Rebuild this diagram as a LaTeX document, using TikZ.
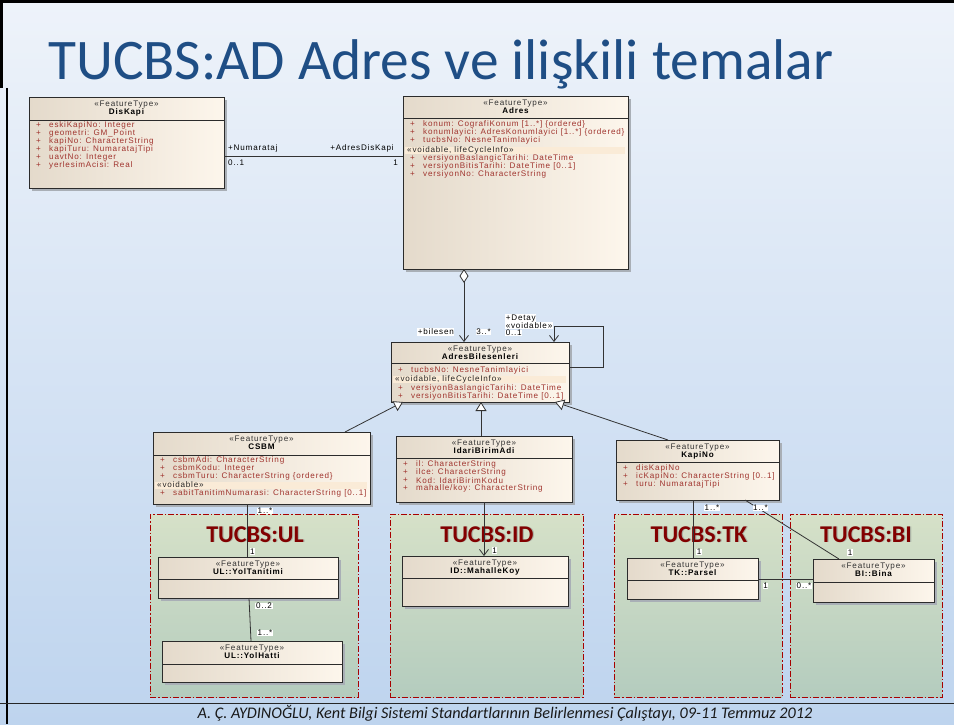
\documentclass[tikz,border=0pt]{standalone}
\usepackage{fontspec}
\setmainfont{Carlito}
\newfontfamily\umlfont{Liberation Sans}[LetterSpace=10]
\usetikzlibrary{arrows.meta}

\definecolor{bgTop}{HTML}{EEF3FA}
\definecolor{bgBot}{HTML}{BED4EE}
\definecolor{boxL}{HTML}{E4DACB}
\definecolor{boxR}{HTML}{FDF6EC}
\definecolor{boxline}{HTML}{2B2B2B}
\definecolor{shadowc}{HTML}{A9AFB6}
\definecolor{attrred}{HTML}{A0332D}
\definecolor{bandc}{HTML}{FAEBD7}
\definecolor{connc}{HTML}{333333}
\definecolor{regred}{HTML}{A80000}
\definecolor{regTop}{HTML}{D6E1C8}
\definecolor{regBot}{HTML}{B4CCBE}
\definecolor{titleblue}{HTML}{1F4E85}
\definecolor{regtitle}{HTML}{820000}

\newcounter{lbl}
\newcommand\umlsize{\umlfont\fontsize{8.1}{8}\selectfont}

% class box: name, x1, y1, x2, y2, header line y, class name
\newcommand\umlclass[7]{%
  \fill[shadowc] (#2+2.5,#3+2.5) rectangle (#4+2.5,#5+2.5);
  \node[umlbox, anchor=north west, minimum width={#4-#2}, minimum height={#5-#3}] (#1) at (#2,#3) {};
  \draw[boxrule] (#2,#6) -- (#4,#6);
  \node[stereo] (#1-st) at ({(#2+#4)/2},#3+7.5) {«FeatureType»};
  \node[cname] (#1-nm) at ({(#2+#4)/2},#3+15) {#7};
}
% attribute line: box left x, y, text
\newcommand\attr[3]{\stepcounter{lbl}%
  \node[attrt] (p\arabic{lbl}) at (#1+7,#2) {+};
  \node[attrt] (a\arabic{lbl}) at (#1+20,#2) {#3};}
% stereotype band: x1, x2, y, text
\newcommand\band[4]{\stepcounter{lbl}%
  \fill[bandc] (#1+2,#3-3.5) rectangle (#2-3,#3+3.5);
  \node[bandt] (b\arabic{lbl}) at (#1+4,#3) {#4};}
% package region: name, x1, y1, x2, y2, title, title x
\newcommand\region[7]{%
  \node[region, anchor=north west, minimum width={#4-#2}, minimum height={#5-#3}] (#1) at (#2,#3) {};
  \node[regt, text=gray, opacity=0.45] (#1-sh) at (#7+1.2,#3+28.2) {#6};
  \node[regt] (#1-t) at (#7,#3+28) {#6};
}

\tikzset{
  umlbox/.style={draw=boxline, line width=0.9pt, left color=boxL, right color=boxR, inner sep=0pt, outer sep=0pt},
  boxrule/.style={draw=boxline, line width=0.8pt},
  stereo/.style={font=\umlsize, text=black!80, inner sep=0pt},
  cname/.style={font=\umlsize\bfseries, text=black, inner sep=0pt},
  attrt/.style={font=\umlsize, text=attrred, anchor=west, inner sep=0pt},
  bandt/.style={font=\umlsize, text=black!85, anchor=west, inner sep=0pt},
  lab/.style={font=\umlsize, text=black, fill=white, inner sep=0.6pt},
  conn/.style={draw=connc, line width=0.8pt},
  region/.style={draw=regred, line width=1pt, dash pattern=on 6pt off 2pt on 1.5pt off 2pt, top color=regTop, bottom color=regBot, inner sep=0pt, outer sep=0pt},
  regt/.style={font=\bfseries\fontsize{24}{26}\selectfont, text=regtitle, inner sep=0pt, anchor=base, text depth=0pt},
  barb/.style={-{Straight Barb[length=6pt,width=9pt,line width=0.8pt]}},
  gen/.style={-{Triangle[open,fill=white,length=9pt,width=11pt,line width=0.8pt]}},
}

\begin{document}
\begin{tikzpicture}[x=1pt,y=-1pt]
\useasboundingbox (0,0) rectangle (954,724);
\fill[top color=bgTop, bottom color=bgBot] (0,0) rectangle (954,724);

% slide frame
\draw[black, line width=3pt] (0,1.5) -- (954,1.5);
\draw[black, line width=2.5pt] (1.5,0) -- (1.5,88);
\draw[black, line width=1.5pt] (7,88) -- (7,724);
\draw[black!85, line width=1.5pt] (0,703.5) -- (954,703.5);

% heading and footer
\node[anchor=base west, font=\fontsize{57.4}{60}\selectfont, text=titleblue, inner sep=0pt] (title) at (48,79.5) {TUCBS:AD Adres ve ilişkili temalar};
\node[anchor=base, font=\itshape\fontsize{16.2}{18}\selectfont, text=black!90, inner sep=0pt] (footer) at (505,718.5) {A. Ç. AYDINOĞLU, Kent Bilgi Sistemi Standartlarının Belirlenmesi Çalıştayı, 09-11 Temmuz 2012};

% package regions
\region{ul}{150}{514}{358}{697}{TUCBS:UL}{255}
\region{id}{390}{514}{583}{697}{TUCBS:ID}{487}
\region{tk}{614}{514}{782}{697}{TUCBS:TK}{699}
\region{bi}{790}{514}{942}{697}{TUCBS:BI}{866}

% DisKapi
\umlclass{diskapi}{29}{97}{224}{188}{120}{DisKapi}
\attr{29}{125.5}{eskiKapiNo: Integer}
\attr{29}{133.4}{geometri: GM\_Point}
\attr{29}{141.3}{kapiNo: CharacterString}
\attr{29}{149.2}{kapiTuru: NumaratajTipi}
\attr{29}{157.1}{uavtNo: Integer}
\attr{29}{165}{yerlesimAcisi: Real}

% Adres
\umlclass{adres}{403}{96}{628}{269}{118}{Adres}
\attr{403}{124.5}{konum: CografiKonum [1..*] \{ordered\}}
\attr{403}{132.5}{konumlayici: AdresKonumlayici [1..*] \{ordered\}}
\attr{403}{140.5}{tucbsNo: NesneTanimlayici}
\band{403}{628}{150}{«voidable, lifeCycleInfo»}
\attr{403}{158}{versiyonBaslangicTarihi: DateTime}
\attr{403}{166}{versiyonBitisTarihi: DateTime [0..1]}
\attr{403}{174}{versiyonNo: CharacterString}

% AdresBilesenleri
\umlclass{bil}{391}{342}{569}{402}{363}{AdresBilesenleri}
\attr{391}{370}{tucbsNo: NesneTanimlayici}
\band{391}{569}{379.5}{«voidable, lifeCycleInfo»}
\attr{391}{388}{versiyonBaslangicTarihi: DateTime}
\attr{391}{396}{versiyonBitisTarihi: DateTime [0..1]}

% CSBM
\umlclass{csbm}{153}{432}{370}{504}{455}{CSBM}
\attr{153}{460.5}{csbmAdi: CharacterString}
\attr{153}{468.5}{csbmKodu: Integer}
\attr{153}{476.5}{csbmTuru: CharacterString \{ordered\}}
\band{153}{370}{485}{«voidable»}
\attr{153}{493.5}{sabitTanitimNumarasi: CharacterString [0..1]}

% IdariBirimAdi
\umlclass{idari}{396}{436}{572}{502}{458}{IdariBirimAdi}
\attr{396}{464.5}{il: CharacterString}
\attr{396}{472.5}{ilce: CharacterString}
\attr{396}{480.5}{Kod: IdariBirimKodu}
\attr{396}{488.5}{mahalle/koy: CharacterString}

% KapiNo
\umlclass{kapino}{616}{440}{779}{500}{462}{KapiNo}
\attr{616}{468.5}{disKapiNo}
\attr{616}{476.5}{icKapiNo: CharacterString [0..1]}
\attr{616}{484.5}{turu: NumaratajTipi}

% classes of the related themes
\umlclass{yoltan}{158}{557}{338}{598}{579}{UL::YolTanitimi}
\umlclass{yolhat}{162}{641}{342}{682}{664}{UL::YolHatti}
\umlclass{mahkoy}{402}{556}{568}{606}{578}{ID::MahalleKoy}
\umlclass{parsel}{627}{558}{758}{599}{580}{TK::Parsel}
\umlclass{bina}{813}{559}{934}{602}{582}{BI::Bina}

% DisKapi -- Adres
\draw[conn] ([yshift=-59]diskapi.north east) -- ([yshift=-60]adres.north west);
\node[anchor=west, font=\umlsize, inner sep=0pt] (n1) at (228,148.5) {+Numarataj};
\node[anchor=east, font=\umlsize, inner sep=0pt] (n2) at (394,148.5) {+AdresDisKapi};
\node[anchor=west, font=\umlsize, inner sep=0pt] (n3) at (228,162.5) {0..1};
\node[anchor=east, font=\umlsize, inner sep=0pt] (n4) at (398,162.5) {1};

% Adres <>-- AdresBilesenleri
\coordinate (d1) at ([xshift=61]adres.south west);
\draw[conn, {Diamond[open,fill=white,length=14pt,width=9pt,line width=0.8pt]}-{Straight Barb[length=6pt,width=9pt,line width=0.8pt]}] (d1) -- (d1 |- bil.north);
\node[lab, anchor=west] (n5) at (417,332) {+bilesen};
\node[lab, anchor=west] (n6) at (475.5,332) {3..*};

% Detay self association
\coordinate (dl) at ([xshift=163]bil.north west);
\draw[conn, barb] ([yshift=-25]bil.north east) -- ++(34,0) |- ([yshift=16]dl) -- (dl);
\node[lab, anchor=west] (n7) at (505,318.5) {+Detay};
\node[lab, anchor=west] (n8) at (505,325.5) {«voidable»};
\node[lab, anchor=west] (n9) at (505,333) {0..1};

% generalizations
\draw[conn, gen] ([xshift=192]csbm.north west) -- ([xshift=12]bil.south west);
\coordinate (g2) at ([xshift=85]idari.north west);
\draw[conn, gen] (g2) -- (g2 |- bil.south);
\draw[conn, gen] ([xshift=52]kapino.north west) -- ([xshift=164]bil.south west);

% CSBM -- UL
\coordinate (c1) at ([xshift=94]csbm.south west);
\draw[conn] (c1) -- (c1 |- yoltan.north);
\node[lab] (m1) at (265,511) {1..*};
\node[lab] (m2) at (252.5,551.5) {1};
\draw[conn] ([xshift=91]yoltan.south west) -- ([xshift=89]yolhat.north west);
\node[lab] (m3) at (264,606) {0..2};
\node[lab] (m4) at (265,633) {1..*};

% IdariBirimAdi -- MahalleKoy
\coordinate (c2) at ([xshift=88]idari.south west);
\draw[conn, barb] (c2) -- (c2 |- mahkoy.north);
\node[lab] (m5) at (494.5,550.5) {1};

% KapiNo -- Parsel / Bina
\coordinate (c3) at ([xshift=77]kapino.south west);
\draw[conn] (c3) -- (c3 |- parsel.north);
\node[lab] (m6) at (712,508) {1..*};
\node[lab] (m7) at (699,552) {1};
\draw[conn] ([xshift=129]kapino.south west) -- ([xshift=26]bina.north west);
\node[lab] (m8) at (760.5,508) {1..*};
\node[lab] (m9) at (850,552.5) {1};

% Parsel -- Bina
\draw[conn] ([yshift=-21]parsel.north east) -- ([yshift=-20]bina.north west);
\node[lab] (m10) at (765.5,586) {1};
\node[lab] (m11) at (804,586) {0..*};
\end{tikzpicture}
\end{document}
